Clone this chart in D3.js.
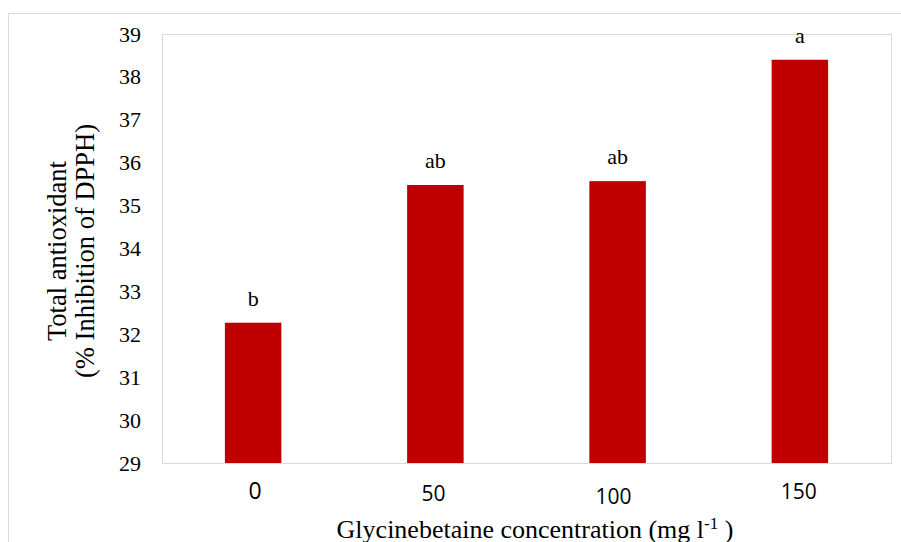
<!DOCTYPE html>
<html>
<head>
<meta charset="utf-8">
<script src="https://cdn.jsdelivr.net/npm/d3@7"></script>
<style>
  body { margin: 0; background: #fff; }
  svg { display: block; }
</style>
</head>
<body>
<div id="chart"></div>
<script>
/* ── Data ─────────────────────────────────────────────────────── */

const categories = ['0', '50', '100', '150'];
const values = [32.27, 35.48, 35.57, 38.4];
const letters = ['b', 'ab', 'ab', 'a'];
const yTicks = [29, 30, 31, 32, 33, 34, 35, 36, 37, 38, 39];

/* ── Layout ───────────────────────────────────────────────────── */

const width = 901, height = 542;
const plot = { left: 162, top: 34, right: 891, bottom: 463 };
const serif = '"Liberation Serif", "Times New Roman", serif';
const sans = '"Open Sans", "Liberation Sans", sans-serif';

const svg = d3.select('#chart')
  .append('svg')
  .attr('width', width)
  .attr('height', height);

// Outer chart frame
svg.append('rect')
  .attr('x', 8.5).attr('y', 13.5)
  .attr('width', 910).attr('height', 560)
  .attr('fill', 'none')
  .attr('stroke', '#d9d9d9');

/* ── Scales ───────────────────────────────────────────────────── */

const x = d3.scaleBand()
  .domain(categories)
  .range([plot.left, plot.right])
  .paddingInner(0.69)
  .paddingOuter(0.345);

const y = d3.scaleLinear()
  .domain([29, 39])
  .range([plot.bottom, plot.top]);

// Plot area border
svg.append('rect')
  .attr('x', plot.left + 0.5).attr('y', plot.top + 0.5)
  .attr('width', plot.right - plot.left).attr('height', plot.bottom - plot.top)
  .attr('fill', 'none')
  .attr('stroke', '#d9d9d9');

/* ── Bars ─────────────────────────────────────────────────────── */

svg.append('g')
  .selectAll('rect')
  .data(values)
  .join('rect')
  .attr('x', (d, i) => x(categories[i]))
  .attr('y', d => y(d))
  .attr('width', x.bandwidth())
  .attr('height', d => y(29) - y(d))
  .attr('fill', '#c00000');

// Significance letters
svg.append('g')
  .selectAll('text')
  .data(values)
  .join('text')
  .attr('x', (d, i) => x(categories[i]) + x.bandwidth() / 2)
  .attr('y', d => y(d) - 17)
  .attr('text-anchor', 'middle')
  .attr('font-family', serif)
  .attr('font-size', 22)
  .attr('fill', '#000')
  .text((d, i) => letters[i]);

/* ── Axes ─────────────────────────────────────────────────────── */

const yAxis = svg.append('g')
  .attr('transform', `translate(${plot.left},0)`)
  .call(d3.axisLeft(y).tickValues(yTicks).tickSize(0).tickPadding(21).tickFormat(d3.format('d')));
yAxis.select('.domain').remove();
yAxis.selectAll('text')
  .attr('font-family', serif)
  .attr('font-size', 22)
  .attr('fill', '#000');

// x tick labels: sizes and offsets vary in the original
const xSizes = [23, 21, 21, 21];
const xOffsets = [36, 38, 41, 36];
const xShift = [2, -2, -4, -1];
const xAxis = svg.append('g')
  .attr('transform', `translate(0,${plot.bottom})`)
  .call(d3.axisBottom(x).tickSize(0).tickPadding(0));
xAxis.select('.domain').remove();
xAxis.selectAll('text')
  .attr('dy', null)
  .attr('y', (d, i) => xOffsets[i])
  .attr('x', (d, i) => xShift[i])
  .attr('font-family', sans)
  .attr('font-size', (d, i) => xSizes[i])
  .attr('fill', '#000');

/* ── Titles ───────────────────────────────────────────────────── */

const yTitle = svg.append('text')
  .attr('transform', 'translate(66,251) rotate(-90)')
  .attr('text-anchor', 'middle')
  .attr('font-family', serif)
  .attr('font-size', 26.5)
  .attr('fill', '#000');
yTitle.append('tspan').attr('x', 0).attr('dy', 0).text('Total antioxidant');
yTitle.append('tspan').attr('x', 0).attr('dy', 28).text('(% Inhibition of DPPH)');

const xTitle = svg.append('text')
  .attr('x', 535)
  .attr('y', 538)
  .attr('text-anchor', 'middle')
  .attr('font-family', serif)
  .attr('font-size', 26)
  .attr('fill', '#000');
xTitle.append('tspan').text('Glycinebetaine concentration (mg l');
xTitle.append('tspan').attr('font-size', 17).attr('dy', -9).text('-1');
xTitle.append('tspan').attr('dy', 9).text(' )');
</script>
</body>
</html>
